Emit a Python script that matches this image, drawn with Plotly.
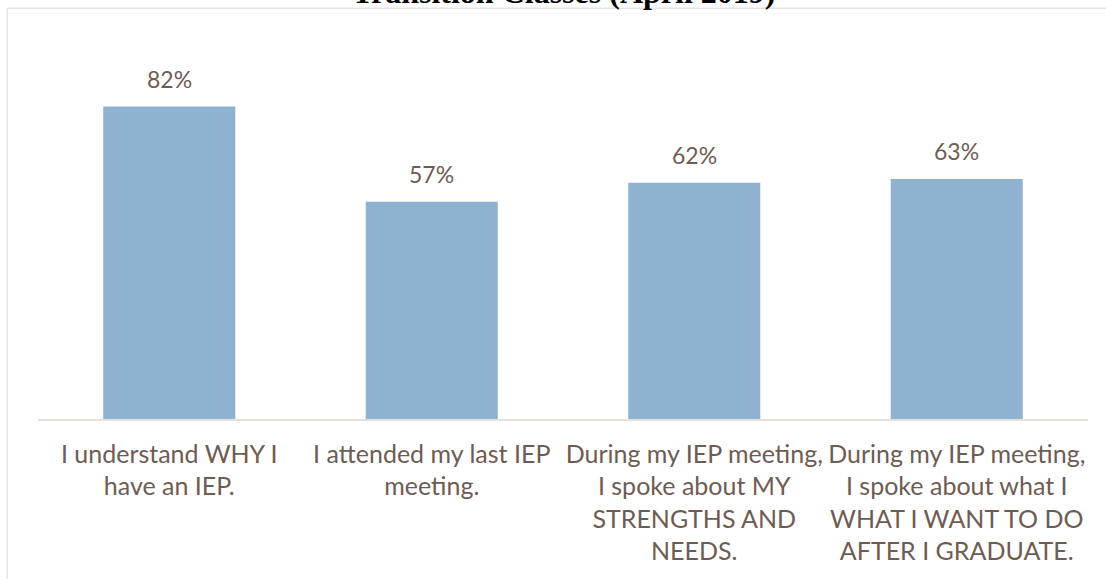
import plotly.graph_objects as go

categories = [
    "I understand WHY I<br>have an IEP.",
    "I attended my last IEP<br>meeting.",
    "During my IEP meeting,<br>I spoke about MY<br>STRENGTHS AND<br>NEEDS.",
    "During my IEP meeting,<br>I spoke about what I<br>WHAT I WANT TO DO<br>AFTER I GRADUATE.",
]
values = [82, 57, 62, 63]
value_labels = ["82%", "57%", "62%", "63%"]
title_text = "Transition Classes (April 2019)"

TEXT = "#6e5c53"
FONT = "Lato"

fig = go.Figure()
fig.add_trace(go.Bar(
    x=categories, y=values,
    marker=dict(color="#8fb2d1", line=dict(width=0)),
    hoverinfo="skip",
))

for c, v, t in zip(categories, values, value_labels):
    fig.add_annotation(x=c, y=v, text=t, showarrow=False, yanchor="bottom",
                       yshift=12, font=dict(family=FONT, size=23, color=TEXT))

# title (partially above the visible area, as in the reference)
fig.add_annotation(xref="paper", yref="paper", x=(563 - 38) / 1050, y=(419 + 8) / 381,
                   text="<b>" + title_text + "</b>", showarrow=False, yanchor="middle",
                   font=dict(family="Liberation Serif", size=32, color="#000000"))

# outer chart frame
border = "#e8e3df"
fig.add_shape(type="line", xref="paper", yref="paper",
              x0=(7.3 - 38) / 1050, x1=(1106 - 38) / 1050 + 0.01,
              y0=(419 - 8.3) / 381, y1=(419 - 8.3) / 381,
              line=dict(color=border, width=1.5))
fig.add_shape(type="line", xref="paper", yref="paper",
              x0=(7.3 - 38) / 1050, x1=(7.3 - 38) / 1050,
              y0=(419 - 8.3) / 381, y1=-0.5,
              line=dict(color=border, width=1.5))

fig.update_layout(
    width=1106, height=579,
    margin=dict(l=38, r=18, t=38, b=160),
    paper_bgcolor="white", plot_bgcolor="white",
    bargap=0.497,
    showlegend=False,
    font=dict(family=FONT, color=TEXT),
)
fig.update_xaxes(showline=True, linecolor="#e6e0dc", linewidth=1.5,
                 ticks="", showgrid=False, zeroline=False,
                 tickfont=dict(family=FONT, size=25, color=TEXT),
                 ticklabelstandoff=12)
fig.update_yaxes(range=[0, 100], visible=False, showgrid=False, zeroline=False)

fig.write_html("out.html", config={"displayModeBar": False},
               post_script="document.body.style.margin='0';")
